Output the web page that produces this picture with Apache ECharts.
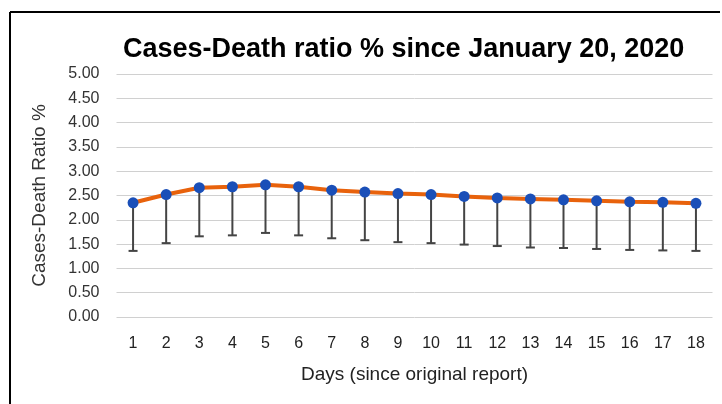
<!DOCTYPE html>
<html><head><meta charset="utf-8">
<script src="https://cdn.jsdelivr.net/npm/echarts@6/dist/echarts.min.js"></script>
<style>html,body{margin:0;padding:0;background:#fff}#c{width:722px;height:404px}</style>
</head><body><div id="c"></div>
<script>
const days = ['1','2','3','4','5','6','7','8','9','10','11','12','13','14','15','16','17','18'];
const ratio = [2.35,2.52,2.66,2.68,2.72,2.68,2.61,2.57,2.54,2.52,2.48,2.45,2.43,2.41,2.39,2.37,2.36,2.34];
const lowerBound = [1.36,1.52,1.66,1.68,1.73,1.68,1.62,1.58,1.54,1.52,1.49,1.46,1.43,1.42,1.40,1.38,1.37,1.36];

const chart = echarts.init(document.getElementById('c'), null, {renderer:'canvas'});
const errData = days.map((d,i)=>[i, ratio[i], lowerBound[i]]);
const FF = 'Liberation Sans, Arial';
chart.setOption({
  animation:false,
  backgroundColor:'#fff',
  title:{text:'Cases-Death ratio % since January 20, 2020', left:118, top:31,
    textStyle:{fontFamily:FF, fontWeight:'bold', fontSize:27, color:'#000'}},
  grid:{left:116.5, right:9.5, top:74, bottom:87},
  xAxis:{type:'category', data:days, boundaryGap:true,
    axisLine:{show:false}, axisTick:{show:false},
    axisLabel:{fontFamily:FF, fontSize:16, color:'#222', margin:19},
    name:'Days (since original report)', nameLocation:'middle', nameGap:48,
    nameTextStyle:{fontFamily:FF, fontSize:19, color:'#222'}},
  yAxis:{type:'value', min:0, max:5, interval:0.5,
    axisLabel:{fontFamily:FF, fontSize:16, color:'#333', margin:17,
      formatter:v=>v.toFixed(2)},
    splitLine:{lineStyle:{color:'#d0d0d0', width:1}},
    axisLine:{show:false}, axisTick:{show:false},
    name:'Cases-Death Ratio %', nameLocation:'middle', nameGap:67,
    nameTextStyle:{fontFamily:FF, fontSize:19, color:'#333'}},
  series:[
    {type:'custom', z:1, data:errData,
      renderItem:function(params, api){
        const x = api.value(0);
        const top = api.coord([x, api.value(1)]);
        const bot = api.coord([x, api.value(2)]);
        const s = {stroke:'#444', lineWidth:2};
        return {type:'group', children:[
          {type:'line', shape:{x1:top[0], y1:top[1], x2:bot[0], y2:bot[1]}, style:s},
          {type:'line', shape:{x1:bot[0]-4.5, y1:bot[1], x2:bot[0]+4.5, y2:bot[1]}, style:s}
        ]};
      }},
    {type:'line', z:3, data:ratio, symbol:'circle', symbolSize:11,
      lineStyle:{color:'#e8620c', width:4},
      itemStyle:{color:'#1a4fb8'}}
  ],
  graphic:[
    {type:'line', shape:{x1:10, y1:12, x2:720, y2:12}, style:{stroke:'#000', lineWidth:2}},
    {type:'line', shape:{x1:10, y1:12, x2:10, y2:404}, style:{stroke:'#000', lineWidth:2}}
  ]
});
</script></body></html>
